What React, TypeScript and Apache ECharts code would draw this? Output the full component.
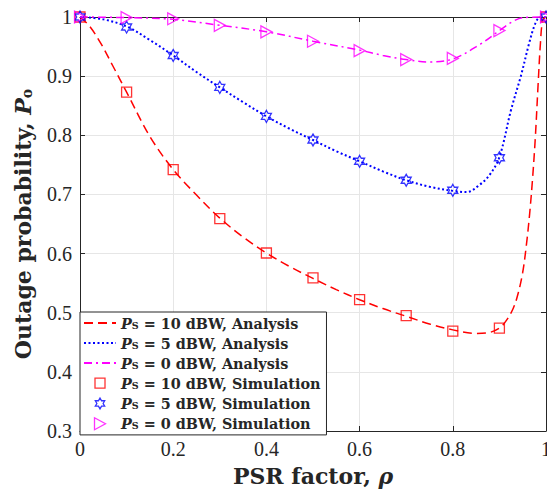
import React, { useEffect, useRef } from 'react';
import * as echarts from 'echarts';

const rho = [0, 0.1, 0.2, 0.3, 0.4, 0.5, 0.6, 0.7, 0.8, 0.9, 1];
const sim10 = [1.0, 0.873, 0.742, 0.659, 0.601, 0.559, 0.522, 0.495, 0.469, 0.474, 1.0];
const sim5 = [1.0, 0.983, 0.935, 0.881, 0.832, 0.792, 0.756, 0.724, 0.707, 0.762, 1.0];
const sim0 = [1.0, 0.999, 0.997, 0.986, 0.975, 0.959, 0.943, 0.928, 0.930, 0.977, 1.0];

const anaRho10 = [0, 0.02, 0.045, 0.07, 0.1, 0.15, 0.2, 0.25, 0.3, 0.35, 0.4, 0.45, 0.5, 0.55, 0.6, 0.65, 0.7, 0.75, 0.8, 0.85, 0.875, 0.9, 0.915, 0.93, 0.94, 0.95, 0.958, 0.965, 0.971, 0.977, 0.983, 0.988, 0.993, 1];
const ana10 = [1.0, 0.985, 0.955, 0.918, 0.873, 0.798, 0.742, 0.699, 0.66, 0.628, 0.601, 0.578, 0.558, 0.539, 0.522, 0.507, 0.494, 0.481, 0.471, 0.465, 0.466, 0.474, 0.487, 0.508, 0.532, 0.568, 0.615, 0.668, 0.725, 0.795, 0.885, 0.955, 0.995, 1.0];

const anaRho5 = [0, 0.05, 0.1, 0.15, 0.2, 0.25, 0.3, 0.35, 0.4, 0.45, 0.5, 0.55, 0.6, 0.65, 0.7, 0.75, 0.8, 0.83, 0.857, 0.879, 0.9, 0.925, 0.946, 0.964, 0.976, 0.986, 1];
const ana5 = [1.0, 0.996, 0.984, 0.961, 0.935, 0.907, 0.881, 0.856, 0.832, 0.811, 0.792, 0.773, 0.756, 0.739, 0.724, 0.713, 0.706, 0.704, 0.716, 0.733, 0.763, 0.843, 0.9, 0.956, 0.987, 0.999, 1.0];

const anaRho0 = [0, 0.1, 0.2, 0.3, 0.4, 0.5, 0.6, 0.65, 0.7, 0.75, 0.8, 0.857, 0.9, 0.928, 0.95, 1];
const ana0 = [1.0, 0.999, 0.996, 0.986, 0.975, 0.959, 0.944, 0.935, 0.928, 0.924, 0.929, 0.953, 0.977, 0.992, 0.999, 1.0];

const names = [
  'P_S = 10 dBW, Analysis',
  'P_S = 5 dBW, Analysis',
  'P_S = 0 dBW, Analysis',
  'P_S = 10 dBW, Simulation',
  'P_S = 5 dBW, Simulation',
  'P_S = 0 dBW, Simulation',
];

const RED = '#ff0000';
const BLUE = '#0000ff';
const MAG = '#ff00ff';
const AX = '#262626';

const HEX = 'path://M10 0L12.887 5L18.66 5L15.774 10L18.66 15L12.887 15L10 20L7.113 15L1.34 15L4.226 10L1.34 5L7.113 5Z';
const TRI = 'path://M0 0L11 6L0 12Z';
const SQ_ICON = 'path://M-1.5 -1.5M11.5 11.5M0 0L10 0L10 10L0 10Z';
const HEX_ICON = 'path://M-3 -2M23 22M10 0L12.887 5L18.66 5L15.774 10L18.66 15L12.887 15L10 20L7.113 15L1.34 15L4.226 10L1.34 5L7.113 5Z';
const TRI_ICON = 'path://M-1 -0.5M12 12.5M0 0L11 6L0 12Z';

const pairs = (xs: number[], ys: number[]) => xs.map((x, i) => [x, ys[i]]);

export default function App() {
  const ref = useRef<HTMLDivElement>(null);
  useEffect(() => {
    if (!ref.current) return;
    const chart = echarts.init(ref.current, undefined, { renderer: 'svg' });
    const serif = 'DejaVu Serif';
    const tickFont = 'Liberation Serif';
    const fmt = (v: number) => String(+v.toFixed(1));
    const lineBase = (name: string, xs: number[], ys: number[], color: string, type: any, width: number) => ({
      name,
      type: 'line',
      data: pairs(xs, ys),
      symbol: 'none',
      smooth: 0.35,
      clip: false,
      itemStyle: { color },
      lineStyle: { color, type, width },
      z: 2,
    });
    const scatterBase = (name: string, ys: number[], color: string, symbol: string, size: any) => ({
      name,
      type: 'scatter',
      data: pairs(rho, ys),
      symbol,
      symbolSize: size,
      clip: false,
      itemStyle: { color: 'rgba(0,0,0,0)', borderColor: color, borderWidth: 1.3 },
      z: 3,
    });
    const hidden = { color: 'rgba(0,0,0,0)', borderColor: 'rgba(0,0,0,0)', borderWidth: 0, opacity: 0 };
    const option: any = {
      animation: false,
      backgroundColor: '#fff',
      grid: { left: 80, right: 1, top: 17, bottom: 58, containLabel: false, outerBoundsMode: 'none' },
      xAxis: [
        {
          type: 'value', min: 0, max: 1, interval: 0.2, position: 'bottom',
          axisLine: { show: true, lineStyle: { color: AX, width: 1 } },
          axisTick: { show: true, inside: true, length: 5, lineStyle: { color: AX } },
          axisLabel: { formatter: fmt, fontFamily: tickFont, fontSize: 20, color: AX, margin: 8 },
          splitLine: { show: true, lineStyle: { color: '#e6e6e6', width: 1 } },
          name: 'PSR factor, {i|ρ}',
          nameLocation: 'middle',
          nameGap: 34,
          nameTextStyle: {
            fontFamily: serif, fontWeight: 'bold', fontSize: 22, color: AX,
            rich: { i: { fontFamily: serif, fontWeight: 'bold', fontStyle: 'italic', fontSize: 22, color: AX } },
          },
        },
        {
          type: 'value', min: 0, max: 1, interval: 0.2, position: 'top',
          axisLine: { show: true, onZero: false, lineStyle: { color: AX, width: 1 } },
          axisTick: { show: true, inside: true, length: 5, lineStyle: { color: AX } },
          axisLabel: { show: false },
          splitLine: { show: false },
        },
      ],
      yAxis: [
        {
          type: 'value', min: 0.3, max: 1, interval: 0.1, position: 'left',
          axisLine: { show: true, onZero: false, lineStyle: { color: AX, width: 1 } },
          axisTick: { show: true, inside: true, length: 5, lineStyle: { color: AX } },
          axisLabel: { formatter: fmt, fontFamily: tickFont, fontSize: 20, color: AX, margin: 8 },
          splitLine: { show: true, lineStyle: { color: '#e6e6e6', width: 1 } },
          name: 'Outage probability, {i|P}{s|o}',
          nameLocation: 'middle',
          nameGap: 46,
          nameTextStyle: {
            fontFamily: serif, fontWeight: 'bold', fontSize: 22, color: AX,
            rich: {
              i: { fontFamily: serif, fontWeight: 'bold', fontStyle: 'italic', fontSize: 22, color: AX },
              s: { fontFamily: serif, fontWeight: 'bold', fontSize: 14, color: AX, verticalAlign: 'bottom' },
            },
          },
        },
        {
          type: 'value', min: 0.3, max: 1, interval: 0.1, position: 'right',
          axisLine: { show: true, onZero: false, lineStyle: { color: AX, width: 1 } },
          axisTick: { show: true, inside: true, length: 5, lineStyle: { color: AX } },
          axisLabel: { show: false },
          splitLine: { show: false },
        },
      ],
      legend: {
        orient: 'vertical',
        left: 80,
        top: 312,
        itemWidth: 32,
        itemHeight: 13,
        itemGap: 6,
        padding: [4, 6, 4, 3],
        backgroundColor: '#fff',
        borderColor: AX,
        borderWidth: 1,
        borderRadius: 0,
        z: 10,
        selectedMode: false,
        textStyle: {
          fontFamily: serif, fontWeight: 'bold', fontSize: 14.4, color: AX,
          rich: {
            i: { fontFamily: serif, fontWeight: 'bold', fontStyle: 'italic', fontSize: 14.4, color: AX },
            s: { fontFamily: serif, fontWeight: 'bold', fontSize: 9.5, color: AX, verticalAlign: 'bottom' },
            t: { fontFamily: serif, fontWeight: 'bold', fontSize: 14.4, color: AX },
          },
        },
        formatter: (name: string) => '{i|P}{s|S}{t|' + name.replace('P_S', '') + '}',
        data: [
          { name: names[0], itemStyle: hidden },
          { name: names[1], itemStyle: hidden },
          { name: names[2], itemStyle: hidden },
          { name: names[3], icon: SQ_ICON, itemStyle: { borderWidth: 1.3, borderColor: RED, color: 'rgba(0,0,0,0)' } },
          { name: names[4], icon: HEX_ICON, itemStyle: { borderWidth: 1.3, borderColor: BLUE, color: 'rgba(0,0,0,0)' } },
          { name: names[5], icon: TRI_ICON, itemStyle: { borderWidth: 1.3, borderColor: MAG, color: 'rgba(0,0,0,0)' } },
        ],
      },
      series: [
        lineBase(names[0], anaRho10, ana10, RED, [9, 5], 1.5),
        lineBase(names[1], anaRho5, ana5, BLUE, [2, 2.5], 2),
        lineBase(names[2], anaRho0, ana0, MAG, [8, 4, 2, 4], 1.5),
        scatterBase(names[3], sim10, RED, 'rect', 10),
        scatterBase(names[4], sim5, BLUE, HEX, [10, 12]),
        scatterBase(names[5], sim0, MAG, TRI, [11, 12]),
      ],
    };
    chart.setOption(option);
    return () => chart.dispose();
  }, []);
  return <div ref={ref} style={{ position: 'fixed', left: 0, top: 0, width: 547, height: 489 }} />;
}
